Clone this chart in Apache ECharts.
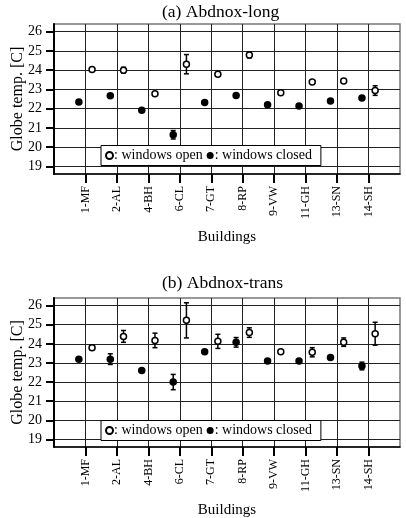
<!DOCTYPE html>
<html>
<head>
<meta charset="utf-8">
<style>
  html, body { margin: 0; padding: 0; background: #fff; }
  #chart { width: 406px; height: 518px; }
</style>
<script src="https://cdn.jsdelivr.net/npm/echarts@6/dist/echarts.min.js"></script>
</head>
<body>
<div id="chart"></div>
<script>
const buildings = ['1-MF', '2-AL', '4-BH', '6-CL', '7-GT', '8-RP', '9-VW', '11-GH', '13-SN', '14-SH'];
const yTicks = [19, 20, 21, 22, 23, 24, 25, 26];

// (a) Abdnox-long
const longOpen = [24.03, 24.0, 22.77, 24.31, 23.79, 24.79, 22.82, 23.39, 23.44, 22.94];
const longOpenErr = [0.05, 0.15, 0.08, 0.5, 0.08, 0.15, 0.05, 0.05, 0.05, 0.25];
const longClosed = [22.34, 22.67, 21.92, 20.64, 22.32, 22.68, 22.2, 22.13, 22.39, 22.55];
const longClosedErr = [0.05, 0.05, 0.05, 0.22, 0.05, 0.05, 0.05, 0.05, 0.05, 0.05];

// (b) Abdnox-trans
const transOpen = [23.8, 24.39, 24.18, 25.23, 24.13, 24.59, 23.59, 23.56, 24.09, 24.53];
const transOpenErr = [0.12, 0.31, 0.38, 0.92, 0.37, 0.25, 0.08, 0.24, 0.22, 0.6];
const transClosed = [23.19, 23.2, 22.61, 22.0, 23.59, 24.08, 23.1, 23.1, 23.29, 22.84];
const transClosedErr = [0.05, 0.28, 0.08, 0.4, 0.05, 0.25, 0.05, 0.05, 0.05, 0.2];

const FONT = "'Liberation Serif', 'Times New Roman', serif";
const SHIFT = 0.21; // closed left of the building line, open right of it
const catTicks = buildings.map((b, i) => i + 1);

function points(vals, errs, shift) {
  return vals.map((v, i) => [i + 1 + shift, v, errs[i]]);
}

// vertical error bar with small caps
function errorBars(idx, data) {
  return {
    type: 'custom',
    xAxisIndex: idx,
    yAxisIndex: idx,
    silent: true,
    z: 2,
    data: data,
    renderItem(params, api) {
      const x = api.value(0), y = api.value(1), e = api.value(2);
      const hi = api.coord([x, y + e]);
      const lo = api.coord([x, y - e]);
      const w = 2.5;
      const st = { stroke: '#000', lineWidth: 1.5 };
      return {
        type: 'group',
        children: [
          { type: 'line', shape: { x1: hi[0], y1: hi[1], x2: lo[0], y2: lo[1] }, style: st },
          { type: 'line', shape: { x1: hi[0] - w, y1: hi[1], x2: hi[0] + w, y2: hi[1] }, style: st },
          { type: 'line', shape: { x1: lo[0] - w, y1: lo[1], x2: lo[0] + w, y2: lo[1] }, style: st },
        ],
      };
    },
  };
}

function xAxis(idx) {
  return {
    type: 'value',
    gridIndex: idx,
    min: 0,
    max: 11,
    interval: 1,
    axisLine: { show: true, onZero: false, lineStyle: { color: '#000', width: 1.5 } },
    axisTick: { show: true, customValues: catTicks, length: 9, lineStyle: { color: '#000', width: 2 } },
    axisLabel: {
      customValues: catTicks,
      rotate: 90,
      margin: 12,
      fontSize: 12,
      fontFamily: FONT,
      color: '#000',
      formatter: (v) => buildings[v - 1] || '',
    },
    splitLine: { show: true, lineStyle: { color: '#222', width: 1 } },
    name: 'Buildings',
    nameLocation: 'middle',
    nameGap: 56,
    nameMoveOverlap: false,
    nameTextStyle: { fontFamily: FONT, fontSize: 15, color: '#000' },
  };
}

function yAxis(idx) {
  return {
    type: 'value',
    gridIndex: idx,
    min: 18.6,
    max: 26.4,
    splitNumber: 8,
    axisLine: { show: true, lineStyle: { color: '#000', width: 2 } },
    axisTick: { show: true, customValues: yTicks, length: 8, lineStyle: { color: '#000', width: 2 } },
    axisLabel: { customValues: yTicks, margin: 12, fontSize: 14, fontFamily: FONT, color: '#000' },
    splitLine: { show: true, lineStyle: { color: '#222', width: 1 } },
    name: 'Globe temp. [C]',
    nameLocation: 'middle',
    nameGap: 28,
    nameMoveOverlap: false,
    nameTextStyle: { fontFamily: FONT, fontSize: 16, color: '#000' },
  };
}

function legend(top) {
  return {
    left: 101,
    top: top,
    data: ['windows open', 'windows closed'],
    icon: 'circle',
    itemWidth: 7,
    itemHeight: 7,
    itemGap: 4,
    formatter: ': {name}',
    selectedMode: false,
    textStyle: { fontFamily: FONT, fontSize: 14, color: '#000', padding: [0, 0, 0, -4] },
    backgroundColor: '#fff',
    borderColor: '#000',
    borderWidth: 1,
    borderRadius: 0,
    padding: [3, 9, 3, 4],
  };
}

function scatter(idx, name, data, filled) {
  return {
    type: 'scatter',
    name: name,
    xAxisIndex: idx,
    yAxisIndex: idx,
    data: data,
    symbolSize: filled ? 7.5 : 6,
    z: 3,
    itemStyle: filled
      ? { color: '#000', opacity: 1 }
      : { color: '#fff', borderColor: '#000', borderWidth: 1.5, opacity: 1 },
  };
}

const titleStyle = { fontFamily: FONT, fontSize: 17.5, fontWeight: 'normal', color: '#000' };
const gridBase = { left: 54, width: 346, show: true, borderColor: '#777', borderWidth: 1.5, outerBoundsMode: 'none' };

const option = {
  animation: false,
  backgroundColor: '#fff',
  title: [
    { text: '(a) Abdnox-long', left: 162, top: 3, padding: 0, textStyle: titleStyle },
    { text: '(b) Abdnox-trans', left: 162, top: 274, padding: 0, textStyle: titleStyle },
  ],
  grid: [
    Object.assign({ top: 24, height: 150 }, gridBase),
    Object.assign({ top: 298, height: 149 }, gridBase),
  ],
  xAxis: [xAxis(0), xAxis(1)],
  yAxis: [yAxis(0), yAxis(1)],
  legend: [legend(145.5), legend(420.5)],
  series: [
    errorBars(0, points(longClosed, longClosedErr, -SHIFT)),
    errorBars(0, points(longOpen, longOpenErr, SHIFT)),
    scatter(0, 'windows closed', points(longClosed, longClosedErr, -SHIFT), true),
    scatter(0, 'windows open', points(longOpen, longOpenErr, SHIFT), false),
    errorBars(1, points(transClosed, transClosedErr, -SHIFT)),
    errorBars(1, points(transOpen, transOpenErr, SHIFT)),
    scatter(1, 'windows closed', points(transClosed, transClosedErr, -SHIFT), true),
    scatter(1, 'windows open', points(transOpen, transOpenErr, SHIFT), false),
  ],
};

const chart = echarts.init(document.getElementById('chart'), null, { renderer: 'canvas' });
chart.setOption(option);
</script>
</body>
</html>
